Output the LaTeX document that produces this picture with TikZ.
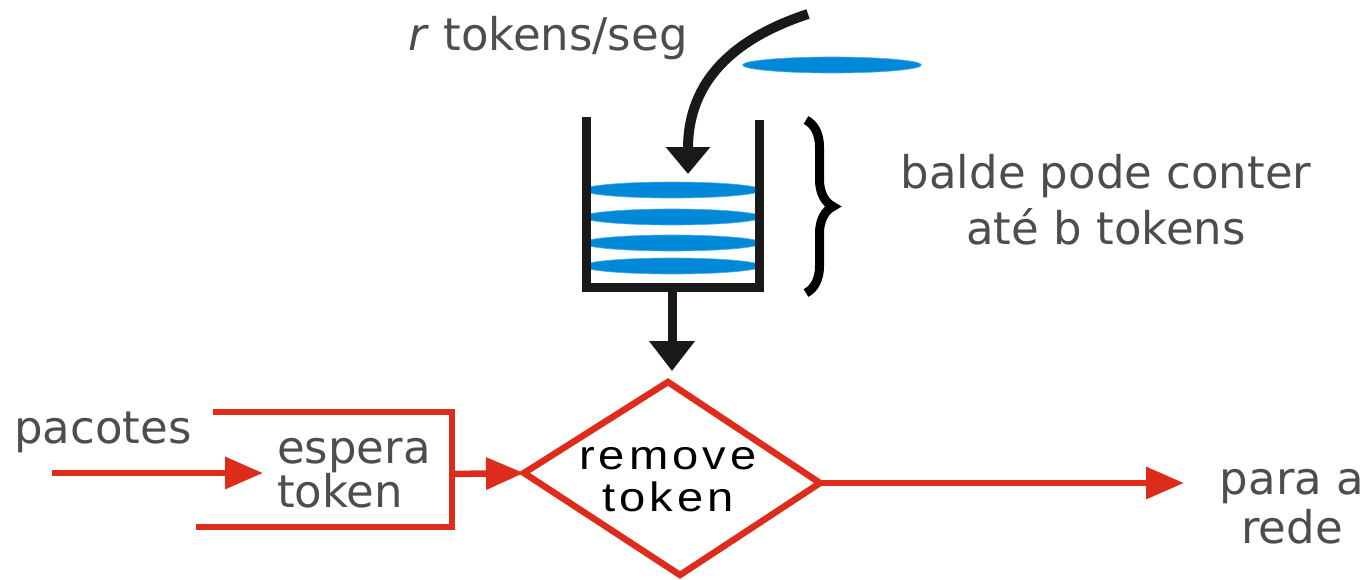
\documentclass[tikz,border=0pt]{standalone}
\usepackage{fontspec}
\setmainfont{DejaVu Sans}
\newfontfamily\arialfont{Liberation Sans}[FakeStretch=1.15,LetterSpace=10]
\usetikzlibrary{arrows.meta,decorations.pathreplacing,shapes.geometric}
\definecolor{tokblue}{RGB}{0,137,216}
\definecolor{myred}{RGB}{221,44,28}
\definecolor{txtgray}{RGB}{77,77,77}
\begin{document}
\begin{tikzpicture}[x=1pt,y=-1pt,
  lbl/.style={text=txtgray,font=\fontsize{45}{52}\selectfont,inner sep=0pt,align=center},
  token/.style={ellipse,fill=tokblue,draw=tokblue!70,line width=0.6pt,minimum width=179pt,minimum height=16pt,inner sep=0pt},
  blk/.style={draw=black!90,line width=9pt},
  redl/.style={draw=myred,line width=6.5pt},
  redarr/.style={redl,-{Triangle[length=38pt,width=31pt]}},
]
\useasboundingbox (0,0) rectangle (1368,579);
% tokens
\node[token] (t0) at (832,65) {};
\node[token] (t1) at (672,190) {};
\node[token] (t2) at (672,217) {};
\node[token] (t3) at (672,243) {};
\node[token] (t4) at (672,266) {};
% bucket
\coordinate (bl) at (586,117);
\coordinate (br) at (759,120);
\coordinate (bot) at (672,287);
\draw[blk] (bl) -- (586,287) -- (759,287) -- (br);
% incoming arrow
\coordinate (src) at (808,14);
\coordinate (tip) at (688,174);
\draw[blk,line width=10pt,-{Triangle[length=27pt,width=43pt]}] (src) .. controls (735,38) and (688,80) .. (tip);
% bucket down arrow
\coordinate (dtop) at (668,382);
\draw[blk,-{Triangle[length=30pt,width=44pt]}] (bot) -- (672,371);
% brace
\coordinate (b1) at (806,120);
\coordinate (b2) at (806,293);
\draw[line width=9pt,decorate,decoration={brace,amplitude=27pt,raise=0pt}] (b1) -- (b2);
% labels
\node[lbl] (rate) at (548,38) {\textit{r} tokens/seg};
\node[lbl,font=\fontsize{45}{56}\selectfont] (cap) at (1106,200) {balde pode conter\\até b tokens};
\node[lbl] (pac) at (103,432) {pacotes};
\node[lbl,align=left,font=\fontsize{45}{37}\selectfont] (esp) at (354,473) {espera\\token};
\node[lbl,font=\fontsize{45}{49}\selectfont] (net) at (1292,507) {para a\\rede};
% diamond
\coordinate (dleft) at (524,473);
\coordinate (dright) at (820,483);
\coordinate (dbot) at (680,575);
\draw[redl,line join=miter] (dtop) -- (dright) -- (dbot) -- (dleft) -- cycle;
\node[inner sep=0pt,align=center,text=black,font=\arialfont\fontsize{41}{42}\selectfont] (rm) at (668,480) {remove\\token};
% espera box
\coordinate (e1) at (213,412);
\coordinate (e2) at (196,527);
\coordinate (eout) at (452,474);
\draw[redl,line join=miter] (e1) -- (452,412) -- (452,527) -- (e2);
\coordinate (pin) at (52,473);
\coordinate (pend) at (263,473);
\draw[redarr] (pin) -- (pend);
\draw[redarr] (eout) -- (dleft);
\coordinate (out) at (1184,483);
\draw[redarr] (dright) -- (out);
\end{tikzpicture}
\end{document}
